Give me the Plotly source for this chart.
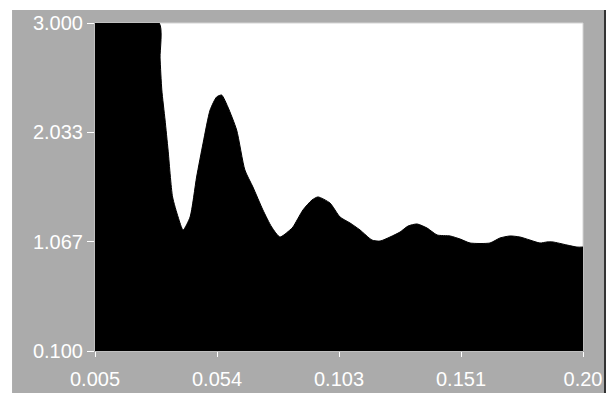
import plotly.graph_objects as go

x_vals = [0.0050, 0.0306, 0.0310, 0.0317, 0.0330, 0.0342, 0.0360, 0.0382, 0.0402,
          0.0430, 0.0456, 0.0482, 0.0510, 0.0536, 0.0556, 0.0581, 0.0616, 0.0649,
          0.0681, 0.0721, 0.0756, 0.0789, 0.0829, 0.0841, 0.0881, 0.0917, 0.0941,
          0.0989, 0.1029, 0.1069, 0.1109, 0.1157, 0.1189, 0.1229, 0.1269, 0.1301,
          0.1337, 0.1377, 0.1417, 0.1469, 0.1509, 0.1549, 0.1628, 0.1668, 0.1708,
          0.1748, 0.1788, 0.1828, 0.1856, 0.1880, 0.1936, 0.1976, 0.2000]
y_vals = [3.000, 3.000, 2.691, 2.408, 2.142, 1.877, 1.462, 1.285, 1.170,
          1.285, 1.638, 1.939, 2.231, 2.346, 2.363, 2.257, 2.054, 1.700,
          1.550, 1.347, 1.196, 1.108, 1.170, 1.196, 1.347, 1.435, 1.462,
          1.408, 1.285, 1.232, 1.170, 1.081, 1.072, 1.108, 1.152, 1.205,
          1.223, 1.187, 1.126, 1.117, 1.090, 1.055, 1.055, 1.099, 1.117,
          1.108, 1.081, 1.055, 1.064, 1.064, 1.037, 1.019, 1.019]

x_tickvals = [0.005, 0.05375, 0.1025, 0.15125, 0.2]
x_ticktext = ["0.005", "0.054", "0.103", "0.151", "0.20"]
y_tickvals = [0.1, 1.0667, 2.0333, 3.0]
y_ticktext = ["0.100", "1.067", "2.033", "3.000"]

fig = go.Figure()
fig.add_trace(go.Scatter(
    x=x_vals, y=y_vals, mode="lines", fill="tozeroy",
    line=dict(color="black", width=1, shape="spline", smoothing=0.6),
    fillcolor="black", hoverinfo="skip", showlegend=False))

GRAY = "#ababab"
fig.update_layout(
    width=606, height=396,
    margin=dict(l=95, r=23, t=23, b=45),
    paper_bgcolor="white", plot_bgcolor="white",
    font=dict(family="Liberation Sans, Arial, sans-serif", size=20, color="white"),
    shapes=[
        dict(type="rect", xref="paper", yref="paper", layer="below",
             x0=-0.170, x1=1.043, y0=-0.128, y1=1.0396,
             fillcolor=GRAY, line=dict(width=0)),
        dict(type="rect", xref="paper", yref="paper", layer="below",
             x0=1.043, x1=1.05, y0=-0.128, y1=1.0396,
             fillcolor="#333333", line=dict(width=0)),
        dict(type="rect", xref="paper", yref="paper", layer="below",
             x0=0, x1=1, y0=0, y1=1,
             fillcolor="white", line=dict(width=1, color="#d4d4d4")),
    ],
    xaxis=dict(range=[0.005, 0.2], tickvals=x_tickvals, ticktext=x_ticktext,
               automargin=False,
               ticks="outside", ticklen=5, tickcolor="white", tickwidth=1,
               ticklabelstandoff=5,
               showgrid=False, zeroline=False, showline=False,
               tickfont=dict(color="white", size=20)),
    yaxis=dict(range=[0.1, 3.0], tickvals=y_tickvals, ticktext=y_ticktext,
               automargin=False,
               ticks="outside", ticklen=7, tickcolor="white", tickwidth=1,
               showgrid=False, zeroline=False, showline=False,
               tickfont=dict(color="white", size=20)),
)

fig.write_html("out.html",
               config={"displayModeBar": False},
               post_script="document.body.style.margin='0';"
                           "document.body.style.overflow='hidden';")
